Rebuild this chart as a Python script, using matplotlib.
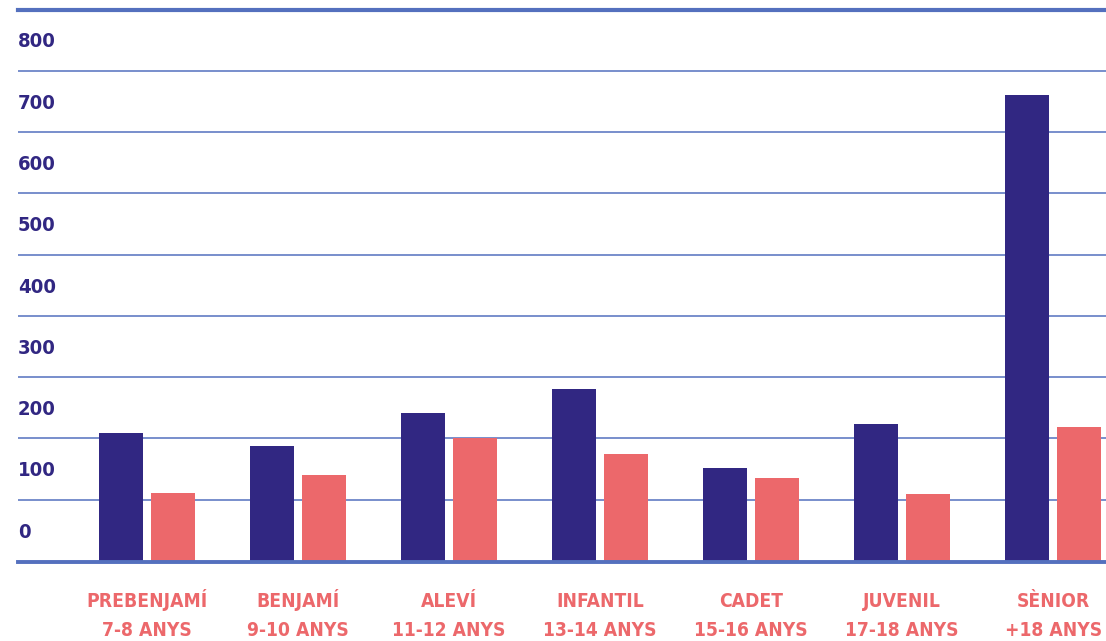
import matplotlib
matplotlib.use("Agg")
import matplotlib.pyplot as plt
import matplotlib.transforms as mtransforms
import numpy as np

categories = ["PREBENJAMÍ\n7-8 ANYS", "BENJAMÍ\n9-10 ANYS", "ALEVÍ\n11-12 ANYS",
              "INFANTIL\n13-14 ANYS", "CADET\n15-16 ANYS", "JUVENIL\n17-18 ANYS",
              "SÈNIOR\n+18 ANYS"]
series_blue = [209, 187, 242, 281, 152, 223, 760]
series_red = [111, 141, 201, 174, 135, 110, 219]
ytick_values = [0, 100, 200, 300, 400, 500, 600, 700, 800]

BLUE = "#312782"
RED = "#EC686B"
GRID = "#5470BE"
FONT = dict(family="DejaVu Sans", stretch="condensed", weight="bold")

W, H = 1106, 641
fig = plt.figure(figsize=(W / 100, H / 100), dpi=100)
ax = fig.add_axes([18 / W, (H - 561) / H, (W - 18) / W, (561 - 9.5) / H])

x = np.arange(len(categories))
bw = 0.29
off = 26 / 151.1
ax.bar(x - off, series_blue, width=bw, color=BLUE, zorder=2)
ax.bar(x + off, series_red, width=bw, color=RED, zorder=2)

ax.set_ylim(0, 900)
ax.set_xlim(-(146.7 - 18) / 151.1, (1106 - 146.7) / 151.1)

for v in range(100, 900, 100):
    ax.axhline(v, color=GRID, lw=1.1, zorder=1)
ax.axhline(900, color=GRID, lw=3.0, zorder=3, clip_on=False)
ax.axhline(-2, color=GRID, lw=2.8, zorder=3, clip_on=False)

for s in ax.spines.values():
    s.set_visible(False)
ax.set_yticks([])
ax.set_xticks([])

# category labels: two lines with fixed baselines (pixels below plot baseline)
xtrans = mtransforms.blended_transform_factory(ax.transData, ax.transAxes)
for xi, lab in zip(x, categories):
    for k, line in enumerate(lab.split("\n")):
        t = mtransforms.offset_copy(xtrans, fig=fig, x=0, y=-(46 + 29 * k), units="dots")
        ax.text(xi, 0.0, line, transform=t, ha="center", va="baseline",
                color=RED, fontsize=13.8, clip_on=False, **FONT)

ytrans = mtransforms.blended_transform_factory(ax.transAxes, ax.transData)
fs_y = 14.5
digit_half = 0.73 * fs_y * 100 / 72 / 2
for v in ytick_values:
    t = mtransforms.offset_copy(ytrans, fig=fig, x=0, y=-digit_half, units="dots")
    ax.text(0.0, v + 50, str(v), transform=t, ha="left", va="baseline",
            color=BLUE, fontsize=fs_y, **FONT)

fig.savefig("out.png", dpi=100)
